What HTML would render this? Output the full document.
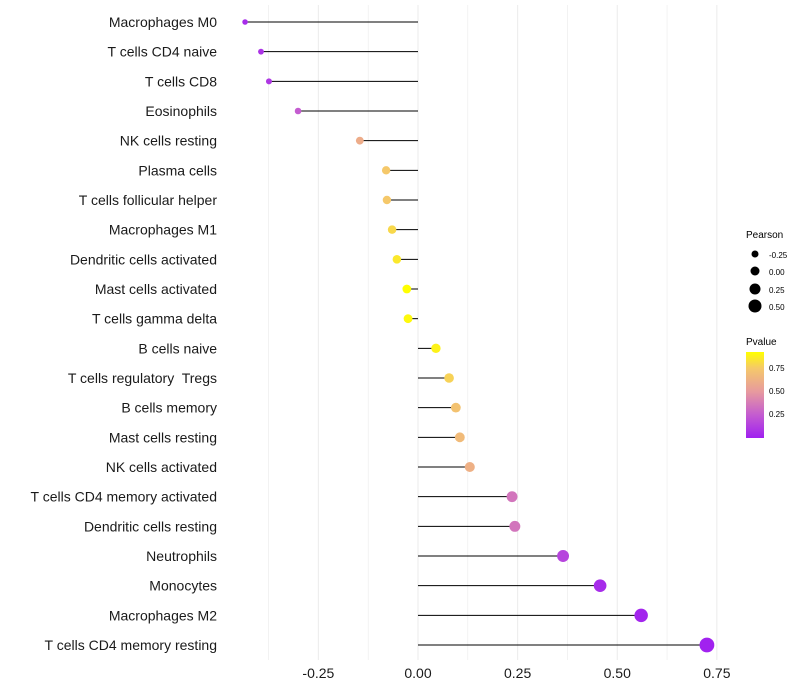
<!DOCTYPE html>
<html><head><meta charset="utf-8"><style>
body{margin:0;background:#fff;}
svg{display:block;font-family:"Liberation Sans",sans-serif;}
#labels text{white-space:pre;}
</style></head><body>
<svg id="chart" width="800" height="700">
<defs><linearGradient id="pg" x1="0" y1="1" x2="0" y2="0">
<stop offset="0" stop-color="#A020F0"/><stop offset="0.27" stop-color="#C45CD0"/><stop offset="0.54" stop-color="#E79A9E"/><stop offset="0.81" stop-color="#F5C86A"/><stop offset="1" stop-color="#FFFF00"/></linearGradient></defs>
<g id="grid"></g>
<g id="marks"></g>
<g id="labels"></g>
<g id="xticks"></g>
<g>
<text x="746" y="238" font-size="10" fill="#000">Pearson</text>
<circle cx="755" cy="254" r="3.5" fill="#000"/><text x="769" y="258" font-size="8">-0.25</text>
<circle cx="755" cy="271" r="4.5" fill="#000"/><text x="769" y="275" font-size="8">0.00</text>
<circle cx="755" cy="289" r="5.5" fill="#000"/><text x="769" y="293" font-size="8">0.25</text>
<circle cx="755" cy="306" r="6.5" fill="#000"/><text x="769" y="310" font-size="8">0.50</text>
</g>
<g>
<text x="746" y="345" font-size="10" fill="#000">Pvalue</text>
<rect x="746" y="352" width="18" height="86" fill="url(#pg)"/>
<text x="769" y="371" font-size="8">0.75</text>
<text x="769" y="394" font-size="8">0.50</text>
<text x="769" y="417" font-size="8">0.25</text>
</g>
</svg>
<script>
const categories=["Macrophages M0","T cells CD4 naive","T cells CD8","Eosinophils","NK cells resting","Plasma cells","T cells follicular helper","Macrophages M1","Dendritic cells activated","Mast cells activated","T cells gamma delta","B cells naive","T cells regulatory  Tregs","B cells memory","Mast cells resting","NK cells activated","T cells CD4 memory activated","Dendritic cells resting","Neutrophils","Monocytes","Macrophages M2","T cells CD4 memory resting"];
const pearson=[-0.434,-0.394,-0.374,-0.301,-0.146,-0.080,-0.078,-0.065,-0.053,-0.028,-0.025,0.045,0.078,0.095,0.105,0.130,0.236,0.243,0.364,0.457,0.560,0.725];
const pvalue=[0.05,0.08,0.10,0.25,0.60,0.75,0.75,0.80,0.85,0.92,0.90,0.88,0.78,0.72,0.68,0.62,0.35,0.35,0.15,0.05,0.02,0.01];
const xTicks=[-0.25,0,0.25,0.5,0.75];
const xTickLabels=["-0.25","0.00","0.25","0.50","0.75"];
const NS="http://www.w3.org/2000/svg";
const x=v=>418+v*398.5;
const y=i=>22+i*(623/(categories.length-1));
const r=v=>4.5+4*v;
const stops=[[0,[160,32,240]],[0.25,[196,92,208]],[0.5,[231,154,158]],[0.75,[245,200,106]],[0.92,[255,255,0]]];
function col(p){p=Math.max(0,Math.min(0.92,p));for(let k=1;k<stops.length;k++){if(p<=stops[k][0]){const a=stops[k-1],b=stops[k],t=(p-a[0])/(b[0]-a[0]);return "rgb("+a[1].map((c,j)=>Math.round(c+(b[1][j]-c)*t)).join(",")+")";}}return "rgb(255,255,0)";}
function mk(t,a,parent){const e=document.createElementNS(NS,t);for(const k in a)e.setAttribute(k,a[k]);parent.appendChild(e);return e;}
const grid=document.getElementById('grid');
for(let v=-0.5;v<=0.875;v+=0.125){if(x(v)<230||x(v)>735)continue;const l=mk('line',{x1:x(v),x2:x(v),y1:5,y2:660,stroke:'#ebebeb','stroke-width':Math.abs(v*4-Math.round(v*4))<1e-6?1:0.6},grid);

}
const marks=document.getElementById('marks'),labels=document.getElementById('labels');
categories.forEach((c,i)=>{
const ln=mk('line',{x1:x(0),x2:x(pearson[i]),y1:y(i),y2:y(i),stroke:'#000','stroke-width':1},marks);


const ci=mk('circle',{cx:x(pearson[i]),cy:y(i),r:r(pearson[i]),fill:col(pvalue[i])},marks);


const t=mk('text',{x:217,y:y(i)+5,'text-anchor':'end','font-size':14,fill:'#1a1a1a'},labels);t.textContent=c;


});
const xt=document.getElementById('xticks');
xTicks.forEach((v,i)=>{const t=mk('text',{x:x(v),y:678,'text-anchor':'middle','font-size':14,fill:'#1a1a1a'},xt);t.textContent=xTickLabels[i];

});
</script>
</body></html>
